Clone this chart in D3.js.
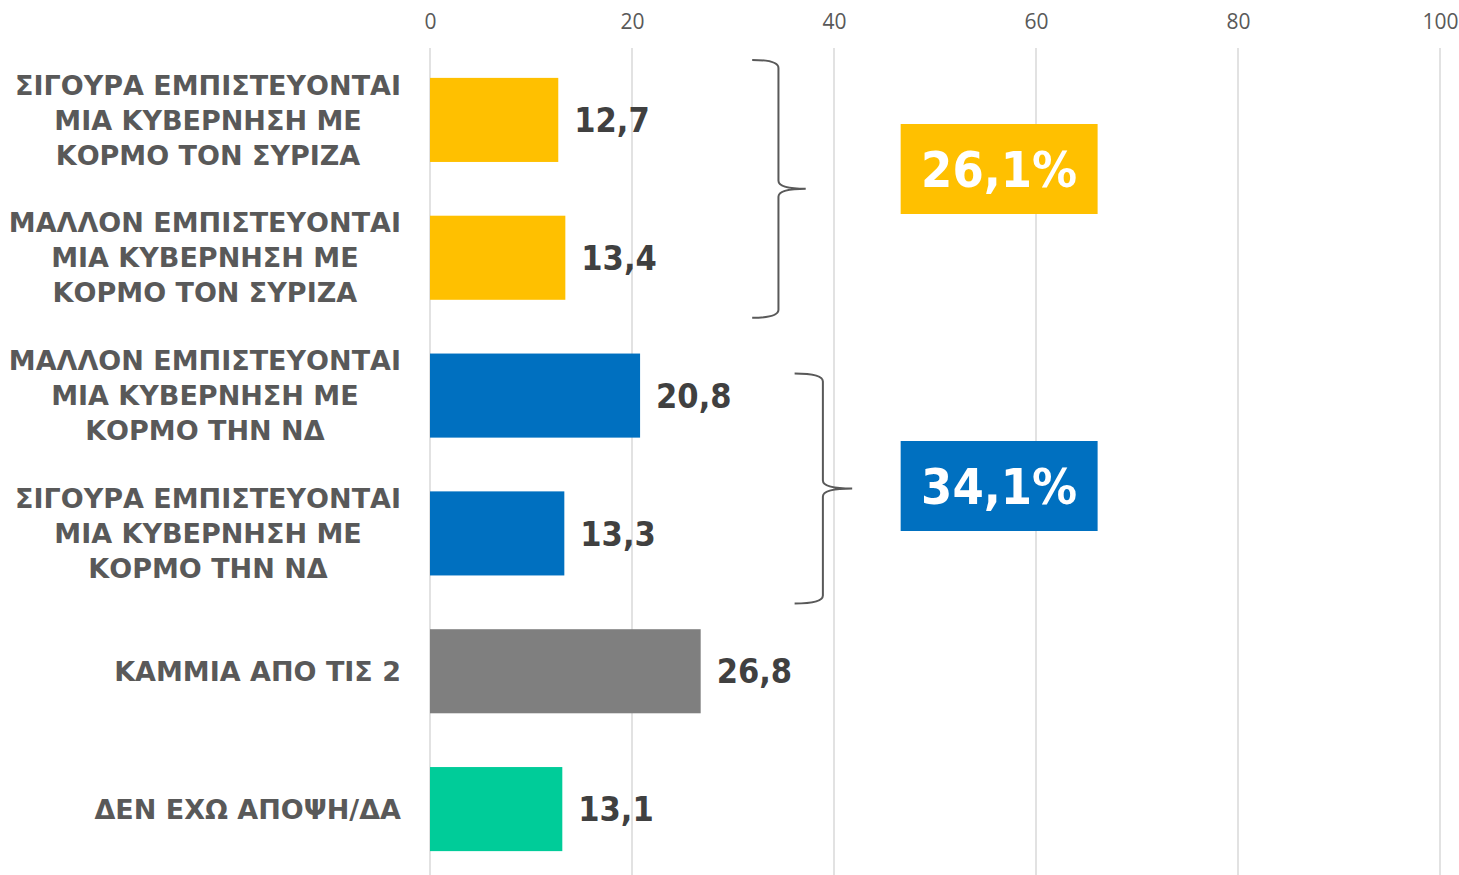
<!DOCTYPE html>
<html>
<head>
<meta charset="utf-8">
<script src="https://cdn.jsdelivr.net/npm/d3@7"></script>
<style>
  body { margin: 0; background: #fff; }
  svg { display: block; }
</style>
</head>
<body>
<div id="chart"></div>
<script>
// categories (one label per bar, lines split by |)
var categories = [
    "ΣΙΓΟΥΡΑ ΕΜΠΙΣΤΕΥΟΝΤΑΙ|ΜΙΑ ΚΥΒΕΡΝΗΣΗ ΜΕ|ΚΟΡΜΟ ΤΟΝ ΣΥΡΙΖΑ",
    "ΜΑΛΛΟΝ ΕΜΠΙΣΤΕΥΟΝΤΑΙ|ΜΙΑ ΚΥΒΕΡΝΗΣΗ ΜΕ|ΚΟΡΜΟ ΤΟΝ ΣΥΡΙΖΑ",
    "ΜΑΛΛΟΝ ΕΜΠΙΣΤΕΥΟΝΤΑΙ|ΜΙΑ ΚΥΒΕΡΝΗΣΗ ΜΕ|ΚΟΡΜΟ ΤΗΝ ΝΔ",
    "ΣΙΓΟΥΡΑ ΕΜΠΙΣΤΕΥΟΝΤΑΙ|ΜΙΑ ΚΥΒΕΡΝΗΣΗ ΜΕ|ΚΟΡΜΟ ΤΗΝ ΝΔ",
    "ΚΑΜΜΙΑ ΑΠΟ ΤΙΣ 2",
    "ΔΕΝ ΕΧΩ ΑΠΟΨΗ/ΔΑ"
];
var values = [12.7, 13.4, 20.8, 13.3, 26.8, 13.1];
var barColors = ["#FFC000", "#FFC000", "#0070C0", "#0070C0", "#7F7F7F", "#00CC99"];
var ticks = [0, 20, 40, 60, 80, 100];

// grouped totals shown in boxes (first and last category index of each group)
var groupTotals = ["26,1%", "34,1%"];
var groupStart = [0, 2];
var groupEnd = [1, 3];
var groupColors = ["#FFC000", "#0070C0"];

var width = 1459,
    height = 875;

var svg = d3.select("#chart")
    .append("svg")
    .attr("width", width)
    .attr("height", height);

var x = d3.scaleLinear()
    .domain([0, 100])
    .range([430, 1440]);

var y = d3.scaleBand()
    .domain(d3.range(categories.length))
    .range([51, 878])
    .paddingInner(0.39)
    .paddingOuter(0.195);

var fmt = function (v) { return d3.format(".1f")(v).replace(".", ","); };

// gridlines
svg.append("g")
    .selectAll("line")
    .data(ticks)
    .join("line")
    .attr("x1", d => x(d))
    .attr("x2", d => x(d))
    .attr("y1", 48)
    .attr("y2", height)
    .attr("stroke", "#d9d9d9")
    .attr("stroke-width", 1.5);

// top axis labels
var axis = svg.append("g")
    .attr("transform", "translate(0,39)")
    .call(d3.axisTop(x).tickValues(ticks).tickSize(0).tickPadding(10));
axis.select(".domain").remove();
axis.selectAll("text")
    .attr("fill", "#595959")
    .style("font-family", "'Open Sans', 'Noto Sans', sans-serif")
    .style("font-size", "21px");

// bars
svg.append("g")
    .selectAll("rect")
    .data(values)
    .join("rect")
    .attr("x", x(0))
    .attr("y", (d, i) => y(i))
    .attr("width", d => x(d) - x(0))
    .attr("height", y.bandwidth())
    .attr("fill", (d, i) => barColors[i]);

// value labels
svg.append("g")
    .selectAll("text")
    .data(values)
    .join("text")
    .attr("x", d => x(d) + 16)
    .attr("y", (d, i) => y(i) + y.bandwidth() / 2)
    .attr("dy", "0.36em")
    .attr("fill", "#404040")
    .style("font-family", "'DejaVu Sans', sans-serif")
    .style("font-stretch", "condensed")
    .style("font-weight", "bold")
    .style("font-size", "34px")
    .text(d => fmt(d));

// category labels: lines centred on each other, block right-aligned at 400
var lineH = 35;
var labels = svg.append("g")
    .selectAll("text")
    .data(categories)
    .join("text")
    .attr("text-anchor", "middle")
    .attr("fill", "#595959")
    .style("font-family", "'DejaVu Sans', sans-serif")
    .style("font-weight", "bold")
    .style("font-size", "27px");

labels.each(function (d, i) {
    var lines = d.split("|");
    var cy = y(i) + y.bandwidth() / 2;
    var t = d3.select(this);
    var spans = lines.map(function (l, k) {
        return t.append("tspan")
            .attr("y", cy + (k - (lines.length - 1) / 2) * lineH)
            .attr("dy", "0.36em")
            .text(l);
    });
    var maxW = d3.max(spans, s => s.node().getComputedTextLength());
    spans.forEach(s => s.attr("x", 401 - maxW / 2));
});

// braces
function bracePath(xl, xv, xt, yt, yb) {
    var ym = (yt + yb) / 2, r = 8;
    return "M" + xl + "," + yt +
        " Q" + xv + "," + yt + " " + xv + "," + (yt + r) +
        " L" + xv + "," + (ym - r) +
        " Q" + xv + "," + ym + " " + xt + "," + ym +
        " Q" + xv + "," + ym + " " + xv + "," + (ym + r) +
        " L" + xv + "," + (yb - r) +
        " Q" + xv + "," + yb + " " + xl + "," + yb;
}

var braceX = [[31.9, 34.5, 37.2], [36.1, 38.9, 41.8]];
var braceExtTop = [18, -20];
var braceExtBot = [18, 28];

svg.append("g")
    .selectAll("path")
    .data(groupStart)
    .join("path")
    .attr("d", (d, g) => bracePath(
        x(braceX[g][0]), x(braceX[g][1]), x(braceX[g][2]),
        y(groupStart[g]) - braceExtTop[g],
        y(groupEnd[g]) + y.bandwidth() + braceExtBot[g]))
    .attr("fill", "none")
    .attr("stroke", "#595959")
    .attr("stroke-width", 2);

// total boxes
var boxes = svg.append("g")
    .selectAll("g")
    .data(groupTotals)
    .join("g");

var boxCy = [169, 486];
boxes.append("rect")
    .attr("x", x(46.6))
    .attr("y", (d, g) => boxCy[g] - 45)
    .attr("width", x(66.1) - x(46.6))
    .attr("height", 90)
    .attr("fill", (d, g) => groupColors[g]);

boxes.append("text")
    .attr("x", x(56.35))
    .attr("y", (d, g) => boxCy[g])
    .attr("dy", "0.36em")
    .attr("text-anchor", "middle")
    .attr("fill", "#fff")
    .style("font-family", "'DejaVu Sans', sans-serif")
    .style("font-stretch", "condensed")
    .style("font-weight", "bold")
    .style("font-size", "50px")
    .text(d => d);
</script>
</body>
</html>
